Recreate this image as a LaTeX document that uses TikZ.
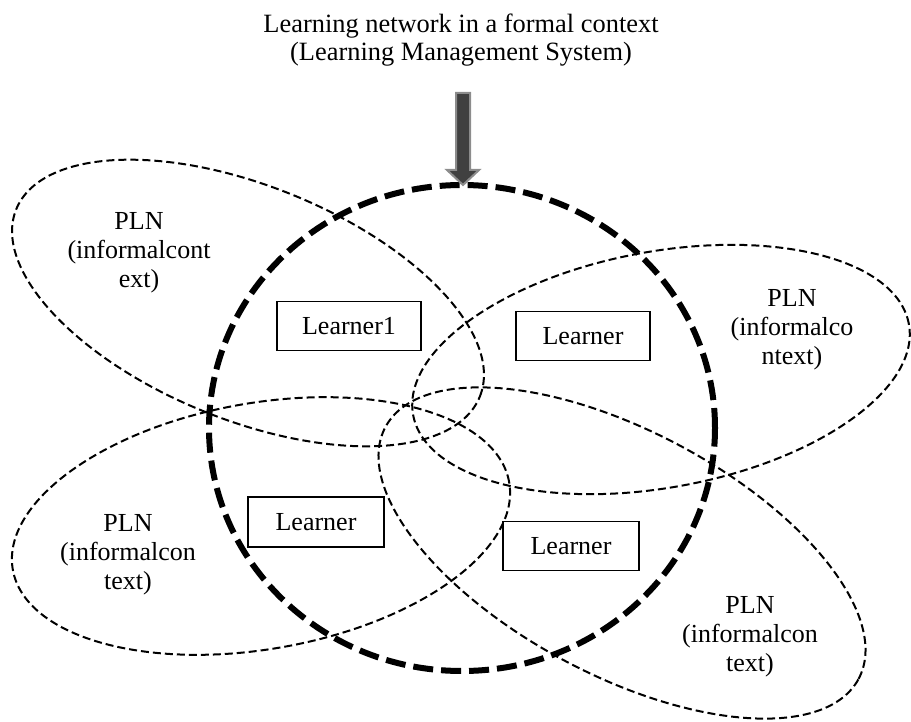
\documentclass[tikz,border=0pt]{standalone}
\usepackage{fontspec}
\setmainfont{Liberation Serif}
\begin{document}
\begin{tikzpicture}[x=0.5pt,y=-0.5pt,
  plnline/.style={draw=black, line width=1pt, dash pattern=on 4pt off 2pt},
  lmsline/.style={draw=black, line width=3pt, dash pattern=on 10pt off 4pt},
  learnerbox/.style={draw=black, line width=0.6pt, fill=white, inner sep=0pt,
    minimum height=24.5pt, font=\fontsize{13}{15}\selectfont},
  plnlabel/.style={align=center, inner sep=0pt, font=\fontsize{13}{14.5}\selectfont},
  titletext/.style={anchor=base, inner sep=0pt, font=\fontsize{13.2}{16}\selectfont},
  blockarrow/.style={fill=black!75, draw=black!45, line width=1pt, line join=miter}
]
\useasboundingbox (0,0) rectangle (911,722);

% personal learning networks (informal)
\draw[plnline, rotate around={-22:(248,303)}] (248,303) ellipse [x radius=125pt, y radius=58.5pt];
\draw[plnline, rotate around={10.4:(661,369.5)}] (661,369.5) ellipse [x radius=126pt, y radius=59pt];
\draw[plnline, rotate around={10:(261,526)}] (261,526) ellipse [x radius=126pt, y radius=61.5pt];
\draw[plnline, rotate around={-28:(622,553)}] (622,553) ellipse [x radius=134pt, y radius=61pt];

% formal learning network (LMS)
\draw[lmsline] (462,428) ellipse [x radius=126.5pt, y radius=121.5pt];
\coordinate (lmstop) at (463,185);

% learners
\node[learnerbox, minimum width=72pt] (l1) at (349,326) {Learner1};
\node[learnerbox, minimum width=67pt] (l2) at (583,336) {Learner};
\node[learnerbox, minimum width=68pt, minimum height=25pt] (l3) at (316,522) {Learner};
\node[learnerbox, minimum width=68pt] (l4) at (571,546) {Learner};

% PLN labels
\node[plnlabel] (p1) at (139,253) {PLN\\(informalcont\\ext)};
\node[plnlabel] (p2) at (792,330) {PLN\\(informalco\\ntext)};
\node[plnlabel] (p3) at (128,555) {PLN\\(informalcon\\text)};
\node[plnlabel] (p4) at (750,637) {PLN\\(informalcon\\text)};

% heading
\node[titletext] (title) at (461,33) {Learning network in a formal context};
\node[titletext] (lms) at (461,61) {(Learning Management System)};

% arrow pointing at the formal network
\filldraw[blockarrow] (456,93) -- (470,93) -- (470,170) -- (479,170)
  -- (lmstop) -- (447,170) -- (456,170) -- cycle;
\end{tikzpicture}
\end{document}
